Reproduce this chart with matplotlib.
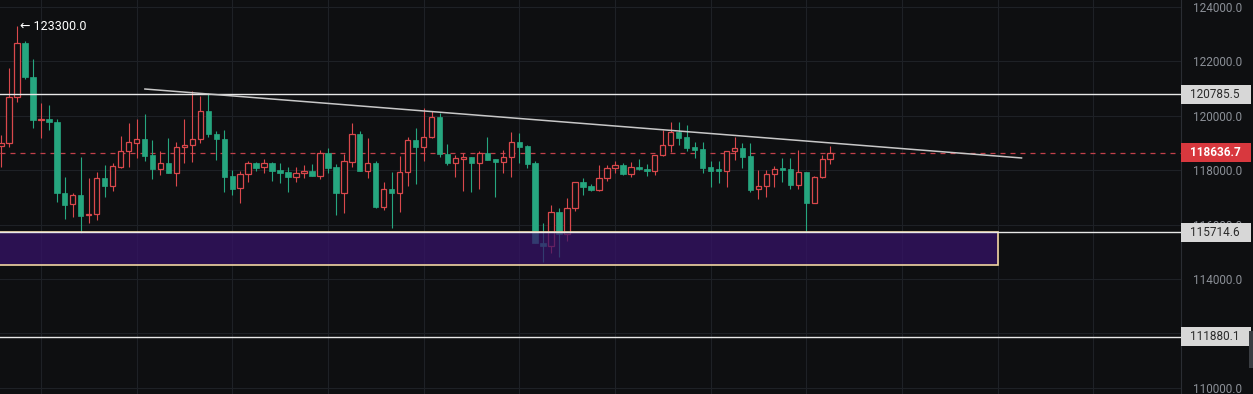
import numpy as np
import matplotlib.pyplot as plt
from matplotlib.patches import Rectangle
from matplotlib.transforms import blended_transform_factory

plt.rcParams['font.family'] = ['Roboto', 'DejaVu Sans']

# candle data (price units)
opens = [118890, 119000, 120690, 122680, 121430, 119850, 119880, 119770, 117160, 116760,
         117090, 116350, 116390, 117710, 117420, 118120, 118710, 119000, 119150, 118560,
         118050, 118270, 117900, 118850, 118930, 119150, 120180, 119330, 119150, 117790,
         117350, 117860, 118270, 118120, 118270, 118010, 117930, 117750, 117900, 117970,
         117790, 118630, 118120, 117160, 118300, 119330, 117970, 118270, 116650, 117310,
         117160, 117930, 119110, 118850, 119220, 119960, 118600, 118270, 118410, 118490,
         118270, 118630, 118410, 118300, 118490, 119040, 118890, 118270, 115320, 115210,
         116460, 115660, 116610, 117570, 117420, 117270, 117710, 118080, 118190, 117860,
         118120, 118050, 117970, 118560, 118930, 119400, 119220, 118850, 118780, 118120,
         118050, 117970, 118710, 118820, 118520, 117310, 117420, 117860, 118080, 118050,
         117460, 117930, 116800, 117750, 118410]
highs = [119290, 121760, 123300, 122750, 122090, 120470, 120400, 119880, 117750, 117160,
         118490, 117710, 117930, 118190, 118270, 119260, 119740, 119880, 120070, 119110,
         118710, 119180, 119040, 119880, 120910, 120730, 120840, 119440, 119480, 118010,
         117970, 118340, 118300, 118410, 118300, 118270, 118120, 118120, 118190, 118230,
         118740, 118820, 118230, 118600, 119740, 119440, 119180, 118340, 117570, 117930,
         118520, 119220, 119550, 120290, 120180, 120100, 118960, 118560, 118630, 118490,
         118710, 119220, 118410, 118740, 119400, 119370, 118930, 118340, 116060, 116720,
         116610, 116980, 117570, 117710, 117490, 118190, 118190, 118340, 118270, 118300,
         118410, 118230, 118560, 119480, 119770, 119770, 119660, 119040, 119040, 118340,
         118340, 118710, 119220, 119000, 119000, 118010, 118010, 118160, 118450, 118450,
         118740, 117930, 117790, 118560, 118890]
lows = [118120, 118850, 120510, 121350, 119550, 119180, 119480, 116830, 116210, 116280,
        115700, 116060, 116170, 117020, 117240, 118080, 118120, 118450, 118340, 117680,
        117820, 117900, 117420, 118270, 118300, 119000, 119220, 118380, 117200, 117090,
        116800, 117570, 117970, 117900, 117600, 117530, 117200, 117570, 117710, 117790,
        117680, 117900, 116350, 116430, 118120, 117970, 117710, 116610, 116540, 115880,
        116460, 117420, 117490, 118340, 119180, 118490, 118190, 117750, 117240, 117200,
        117310, 118380, 117020, 117900, 117750, 118270, 118080, 115320, 114630, 114960,
        114810, 115400, 116500, 117090, 117240, 117240, 117600, 117900, 117820, 117750,
        118010, 117790, 117820, 118520, 118670, 118930, 118710, 118450, 117900, 117380,
        117530, 117380, 118380, 118080, 117200, 116940, 117020, 117380, 117570, 117310,
        117310, 115715, 116800, 117710, 118230]
closes = [119000, 120690, 122680, 121430, 119850, 119880, 119770, 117160, 116720, 117090,
          116320, 116390, 117710, 117420, 118160, 118710, 119040, 119150, 118520, 118050,
          118270, 117900, 118850, 118930, 119150, 120180, 119330, 119150, 117750, 117310,
          117860, 118270, 118080, 118270, 117970, 117900, 117750, 117900, 117970, 117790,
          118630, 118080, 117160, 118340, 119330, 117970, 118270, 116650, 117310, 117160,
          117930, 119110, 118850, 119220, 119960, 118600, 118270, 118450, 118490, 118270,
          118630, 118380, 118300, 118490, 119040, 118850, 118230, 115320, 115210, 116460,
          115660, 116610, 117570, 117380, 117270, 117710, 118080, 118190, 117860, 118120,
          118050, 117970, 118560, 118930, 119400, 119180, 118820, 118740, 118080, 117970,
          117970, 118710, 118820, 118490, 117270, 117420, 117860, 118050, 118010, 117460,
          117930, 116800, 117750, 118410, 118636.7]

yticks = [110000, 112000, 114000, 116000, 118000, 120000, 122000, 124000]
ytick_labels = ['110000.0', '', '114000.0', '116000.0', '118000.0', '120000.0', '122000.0', '124000.0']
levels = [120785.5, 115714.6, 111880.1]
last_price = 118636.7
zone_top = 115714.6
zone_bottom = 114520
trend_x = [18.05, 128.0]
trend_y = [120985, 118450]

bg = '#0e0f11'
up = '#d9484c'
down = '#26a67f'

fig = plt.figure(figsize=(12.53, 3.94), dpi=100, facecolor=bg)
ax = fig.add_axes([0, 0, 1181 / 1253, 1])
ax.set_facecolor(bg)

x = np.arange(len(opens))
o = np.array(opens)
h = np.array(highs)
l = np.array(lows)
c = np.array(closes)
rising = c >= o

# wicks
ax.vlines(x[rising], l[rising], h[rising], color=up, lw=0.8, zorder=3)
ax.vlines(x[~rising], l[~rising], h[~rising], color=down, lw=0.8, zorder=3)
# bodies (up candles hollow)
ax.bar(x[rising], (c - o)[rising], bottom=o[rising], width=0.68,
       facecolor=bg, edgecolor=up, linewidth=0.9, zorder=4)
body = np.maximum(np.abs(c - o), 30)
ax.bar(x[~rising], -body[~rising], bottom=o[~rising], width=0.68,
       facecolor=down, edgecolor=down, linewidth=0.5, zorder=4)

# zone
ax.add_patch(Rectangle((-2, zone_bottom), 127, zone_top - zone_bottom,
                       facecolor='#37136a', alpha=0.72, edgecolor='none', zorder=5))
ax.add_patch(Rectangle((-2, zone_bottom), 127, zone_top - zone_bottom,
                       facecolor='none', edgecolor='#f2d6a2', lw=1.2, zorder=6))

# levels
for lv in levels:
    ax.axhline(lv, color='#e8e8e8', lw=1.0, zorder=6)
ax.axhline(last_price, color='#c2404a', lw=0.9, ls=(0, (4, 4)), zorder=2)
ax.plot(trend_x, trend_y, color='#c8c8c8', lw=1.1, zorder=6)

ax.text(2.35, 123300, '\u2190 123300.0', color='white', fontsize=9,
        va='center', ha='left', zorder=7)

ax.set_xlim(-0.125, 148.0)
ax.set_ylim(109774, 124257)
ax.set_xticks(np.arange(5, 148, 12))
ax.set_yticks(yticks)
ax.set_yticklabels(ytick_labels)
ax.yaxis.tick_right()
ax.tick_params(axis='y', length=0, pad=9, labelsize=8.5, labelcolor='#8b8f97')
ax.tick_params(axis='x', length=0, labelbottom=False)
ax.grid(True, color='#1e2126', lw=0.8, zorder=0)
ax.set_axisbelow(True)
for s in ['top', 'left', 'bottom']:
    ax.spines[s].set_visible(False)
ax.spines['right'].set_color('#2a2d33')

# price boxes on the axis
tr = blended_transform_factory(ax.transAxes, ax.transData)
box_h = 19 * 36.76
for lv in levels:
    ax.add_patch(Rectangle((1.0, lv - box_h / 2), 70 / 1181, box_h, transform=tr,
                           facecolor='#d7d7d7', edgecolor='none', clip_on=False, zorder=8))
    ax.text(1.0 + 9 / 1181, lv, f'{lv:.1f}', transform=tr, color='#2a2a2a',
            fontsize=8.5, va='center', ha='left', clip_on=False, zorder=9)
ax.add_patch(Rectangle((1.0, last_price - box_h / 2), 70 / 1181, box_h, transform=tr,
                       facecolor='#d8383e', edgecolor='none', clip_on=False, zorder=8))
ax.text(1.0 + 9 / 1181, last_price, f'{last_price:.1f}', transform=tr, color='white',
        fontsize=8.5, fontweight='bold', va='center', ha='left', clip_on=False, zorder=9)

fig.patches.append(Rectangle((1249 / 1253, 26 / 394), 4 / 1253, 37 / 394,
                             transform=fig.transFigure, facecolor='#3a3d42', edgecolor='none'))

fig.savefig('out.png', dpi=100, facecolor=bg)
